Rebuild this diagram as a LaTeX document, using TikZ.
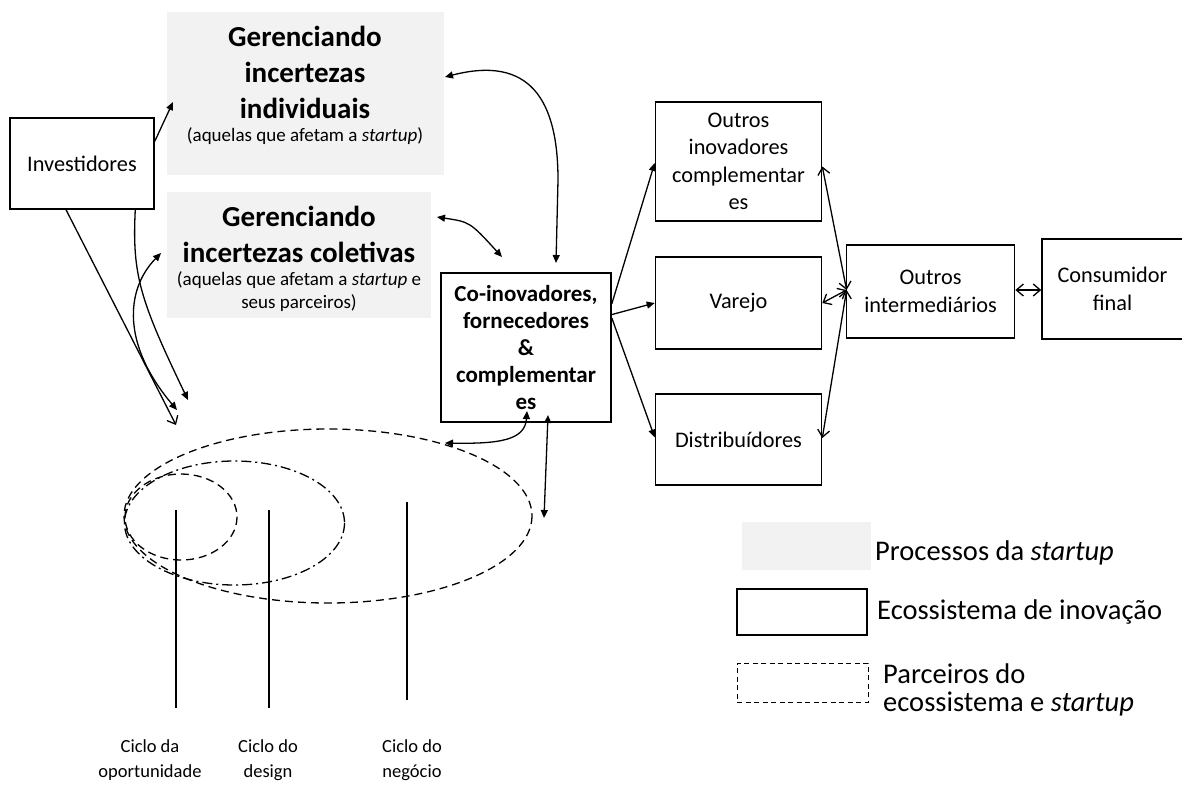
\documentclass[tikz,border=0pt]{standalone}
\usepackage{fontspec}
\setmainfont{Carlito}
\usetikzlibrary{arrows.meta,calc}
\definecolor{procgray}{HTML}{F2F2F2}
\newcommand\myhead{\fontsize{29pt}{36pt}\selectfont\bfseries}
\newcommand\mysub{\fontsize{19pt}{23pt}\selectfont}
\newcommand\mycobf{\fontsize{23pt}{27pt}\selectfont\bfseries}
\newcommand\myreg{\fontsize{22.3pt}{27.5pt}\selectfont}
\newcommand\myleg{\fontsize{28.5pt}{28pt}\selectfont}
\newcommand\mycyc{\fontsize{18.5pt}{25pt}\selectfont}
\begin{document}
\begin{tikzpicture}[x=1pt,y=-1pt,
  box/.style={draw,line width=1.6pt,align=center,inner sep=0pt},
  gbox/.style={fill=procgray,inner sep=0pt},
  txt/.style={align=center,inner sep=0pt},
  ln/.style={line width=1.3pt},
  arf/.style={ln,-{Triangle[length=8pt,width=7pt]}},
  arff/.style={ln,{Triangle[length=8pt,width=7pt]}-{Triangle[length=8pt,width=7pt]}},
  aro/.style={ln,-{Straight Barb[length=7pt,width=12pt]}},
  aroo/.style={ln,{Straight Barb[length=7pt,width=12pt]}-{Straight Barb[length=7pt,width=12pt]}},
  dsh/.style={ln,dash pattern=on 8pt off 5pt},
  dshdot/.style={ln,dash pattern=on 10pt off 4pt on 2pt off 4pt}]
\useasboundingbox (0,0) rectangle (1182,798);

% gray process boxes
\node[gbox,minimum width=277pt,minimum height=163pt] (g1) at (305.5,93.5) {};
\node[txt,font=\myhead] (g1h) at (305,72) {Gerenciando\\incertezas\\individuais};
\node[txt,font=\mysub] (g1s) at (305,136) {(aquelas que afetam a \textit{startup})};
\node[gbox,minimum width=264pt,minimum height=126pt] (g2) at (299,255) {};
\node[txt,font=\myhead] (g2h) at (299,234.5) {Gerenciando\\incertezas coletivas};
\node[txt,font=\mysub] (g2s) at (299,291.5) {(aquelas que afetam a \textit{startup} e\\seus parceiros)};

% ecosystem boxes
\node[box,font=\myreg,minimum width=144pt,minimum height=91pt] (inv) at (82,163.5) {Investidores};
\node[box,font=\mycobf,minimum width=170pt,minimum height=149pt] (co) at (526,347.5) {Co-inovadores,\\fornecedores\\\&\\complementar\\es};
\node[box,font=\myreg,minimum width=166pt,minimum height=119pt] (oi) at (738.5,161.5) {Outros\\inovadores\\complementar\\es};
\node[box,font=\myreg,minimum width=166pt,minimum height=92pt] (var) at (738.5,303) {Varejo};
\node[box,font=\myreg,minimum width=166pt,minimum height=91pt] (dist) at (738.5,439.5) {Distribuídores};
\node[box,font=\myreg,minimum width=168pt,minimum height=93pt] (oint) at (930.6,291.5) {Outros\\intermediários};
\node[box,font=\myreg,minimum width=141pt,minimum height=100pt] (cons) at (1112.5,289) {Consumidor\\final};

% cycles
\draw[dsh] (328,516) ellipse [x radius=204, y radius=87];
\draw[dshdot] (234.5,523) ellipse [x radius=110, y radius=62];
\draw[dsh] (181,517) ellipse [x radius=56, y radius=43];
\coordinate (c1t) at (176,510); \coordinate (c1b) at (176,708);
\coordinate (c2t) at (269,510); \coordinate (c2b) at (269,708);
\coordinate (c3t) at (407,502); \coordinate (c3b) at (407,700);
\draw[ln] (c1t) -- (c1b);
\draw[ln] (c2t) -- (c2b);
\draw[ln] (c3t) -- (c3b);
\node[txt,font=\mycyc] (l1) at (150,760.5) {Ciclo da\\oportunidade};
\node[txt,font=\mycyc] (l2) at (268,760.5) {Ciclo do\\design};
\node[txt,font=\mycyc] (l3) at (412,760.5) {Ciclo do\\negócio};

% coordinates for free ends
\coordinate (g1in) at (173,102);
\coordinate (cyA) at (176,425);
\coordinate (cyB) at (188,400);
\coordinate (cyC) at (177,410);
\coordinate (g2in) at (161,253);
\coordinate (g1r) at (445,77);
\coordinate (cotop) at (556,263);
\coordinate (g2r) at (437,217);
\coordinate (cotl) at (502,257);
\coordinate (cob1) at (527,411);
\coordinate (ell1) at (445,443);
\coordinate (cob2) at (548,415);
\coordinate (ell2) at (544,518);
\coordinate (hub) at (846.6,290);

% investor arrows
\draw[arf] (inv.17) -- (g1in);
\draw[aro] (inv.251) -- (cyA);
\draw[arf] (inv.319) .. controls (132,275) and (140,300) .. (cyB);
\draw[arff] (cyC) .. controls (122,345) and (125,290) .. (g2in);

% process <-> co-innovators
\draw[arff] (g1r) .. controls (530,55) and (558,100) .. (558,180) -- (cotop);
\draw[arff] (g2r) .. controls (470,222) .. (cotl);

% co-innovators -> right boxes
\draw[arf] (co.27.6) -- ($(oi.west)+(0,1.5)$);
\draw[arf] (co.21) -- (var.west);
\draw[arf] (co.19) -- ($(dist.west)+(0,-2)$);

% co-innovators <-> cycles
\draw[arff] (cob1) .. controls (525,440) and (500,444) .. (ell1);
\draw[arff] (cob2) -- (ell2);

% right side open arrows
\draw[aroo] ($(oi.east)+(0,5)$) -- (hub);
\draw[aroo] (var.east) -- (hub);
\draw[aroo] ($(dist.east)+(0,-1.5)$) -- (hub);
\draw[aroo] (oint.east |- hub) -- (cons.west |- hub);

% legend
\node[gbox,minimum width=129pt,minimum height=48pt] (lg1) at (806.5,546) {};
\node[anchor=west,inner sep=0pt,font=\myleg] (lt1) at (875,553) {Processos da \textit{startup}};
\node[draw,line width=1.4pt,inner sep=0pt,minimum width=130pt,minimum height=46pt] (lg2) at (802,612) {};
\node[anchor=west,inner sep=0pt,font=\myleg] (lt2) at (877,612) {Ecossistema de inovação};
\node[draw,line width=1pt,dash pattern=on 5pt off 3.5pt,inner sep=0pt,minimum width=131pt,minimum height=39pt] (lg3) at (802.5,682.5) {};
\node[anchor=west,align=left,inner sep=0pt,font=\myleg] (lt3) at (883,689.5) {Parceiros do\\ecossistema e \textit{startup}};
\end{tikzpicture}
\end{document}
